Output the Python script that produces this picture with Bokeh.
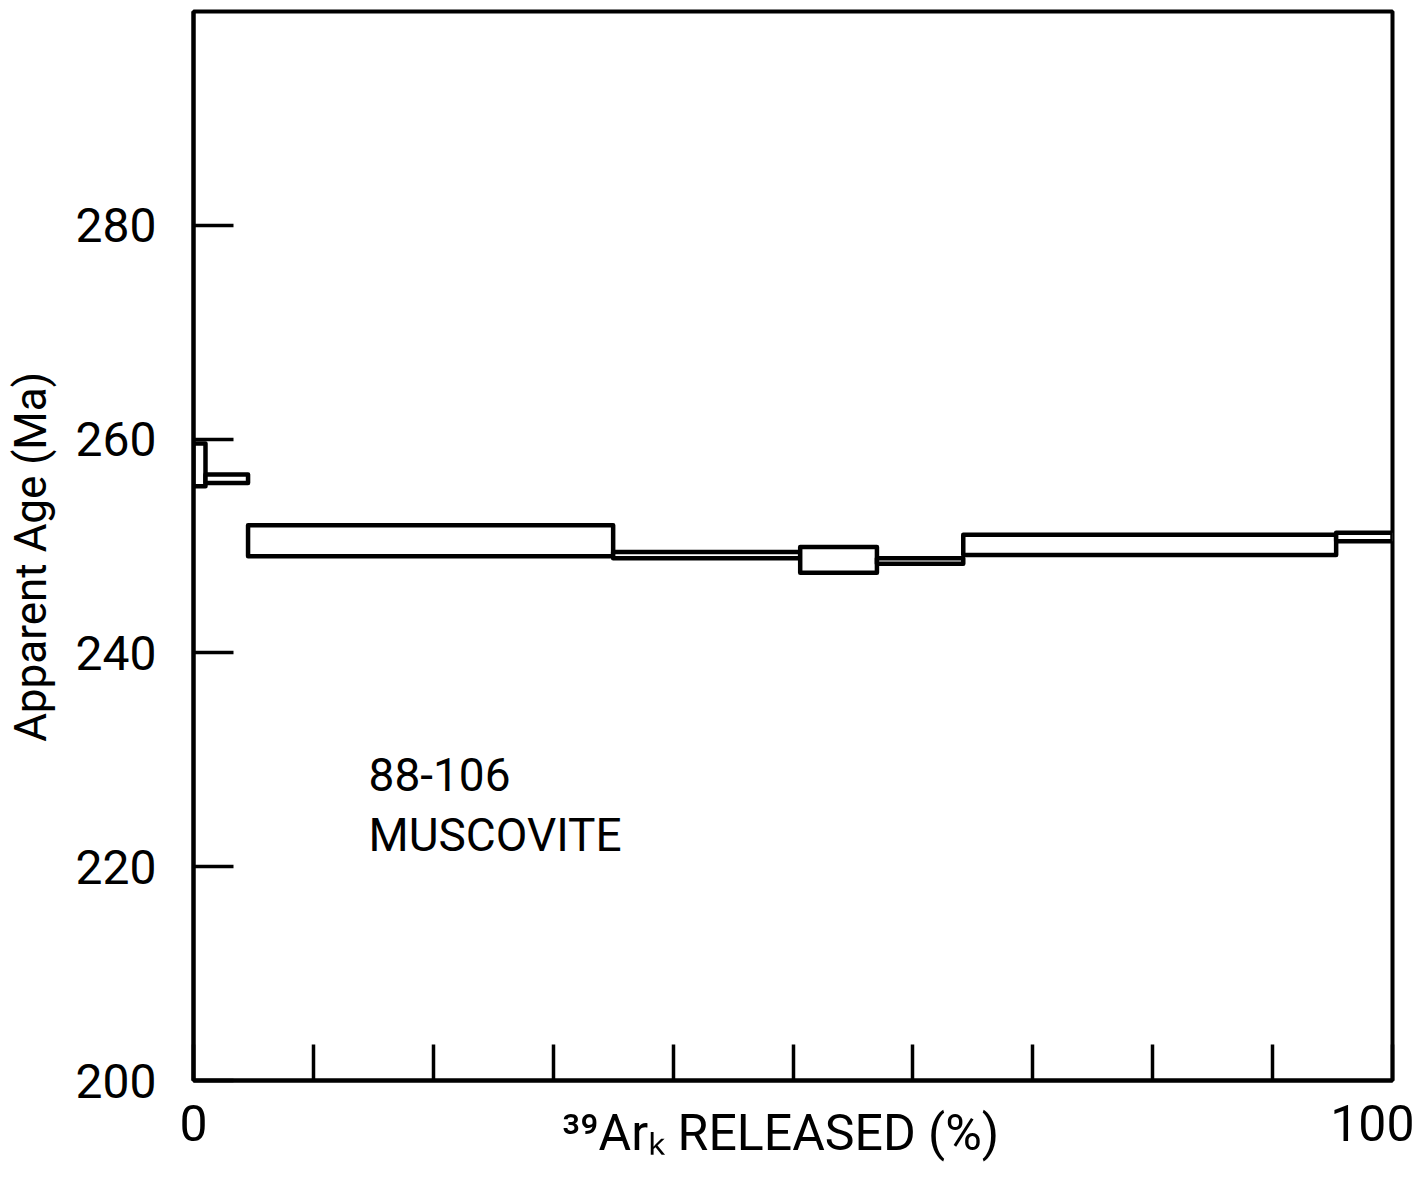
from bokeh.plotting import figure
from bokeh.models import FixedTicker, Range1d
from bokeh.core.properties import value
from bokeh.embed import file_html
from bokeh.resources import INLINE

# ---- data ----
cum_release = [0.0, 1.0, 4.55, 35.0, 50.6, 57.0, 64.2, 95.3, 100.0]   # cumulative 39Ar released (%)
apparent_age = [257.6, 256.3, 250.5, 249.15, 248.7, 248.6, 250.1, 250.85]  # Ma
age_error = [2.0, 0.4, 1.45, 0.3, 1.2, 0.25, 0.95, 0.4]  # Ma (half box height)

x_ticks = [0, 10, 20, 30, 40, 50, 60, 70, 80, 90, 100]
x_tick_labels = {0: "0", 100: "100"}
y_ticks = [200, 220, 240, 260, 280]

sample_lines = ["88-106", "MUSCOVITE"]
sample_x = [14.6, 14.6]
sample_y = [230.2, 225.5]

FONT = "Roboto"

left = cum_release[:-1]
right = cum_release[1:]
bottom = [a - e for a, e in zip(apparent_age, age_error)]
top = [a + e for a, e in zip(apparent_age, age_error)]

p = figure(width=1414, height=1179, output_backend="svg", toolbar_location=None,
           x_range=Range1d(0, 100), y_range=Range1d(200, 300),
           min_border_left=193, min_border_right=22, min_border_top=11, min_border_bottom=99)

p.background_fill_color = "white"
p.border_fill_color = "white"
p.outline_line_color = "black"
p.outline_line_width = 4
p.grid.visible = False

p.quad(left=left, right=right, bottom=bottom, top=top,
       fill_color="white", line_color="black", line_width=4.5, line_join="round")

p.text(x=sample_x, y=sample_y, text=sample_lines, text_font=value(FONT),
       text_font_size="46px", text_baseline="top", text_align="left", text_color="black")

# x axis
xa = p.xaxis[0]
xa.ticker = FixedTicker(ticks=x_ticks)
xa.major_label_overrides = {t: x_tick_labels.get(t, "") for t in x_ticks}
xa.minor_tick_line_color = None
xa.major_tick_in = 36
xa.major_tick_out = 0
xa.major_tick_line_width = 3.5
xa.axis_line_width = 4
xa.major_label_standoff = 24
xa.major_label_text_font = FONT
xa.major_label_text_font_size = "50px"
xa.major_label_text_color = "black"
xa.axis_label = "³⁹Arₖ  RELEASED  (%)"
xa.axis_label_text_font = FONT
xa.axis_label_text_font_size = "50px"
xa.axis_label_text_font_style = "normal"
xa.axis_label_text_color = "black"
xa.axis_label_standoff = -40

# y axis
ya = p.yaxis[0]
ya.ticker = FixedTicker(ticks=y_ticks)
ya.minor_tick_line_color = None
ya.major_tick_in = 40
ya.major_tick_out = 0
ya.major_tick_line_width = 3.5
ya.axis_line_width = 4
ya.major_label_standoff = 37
ya.major_label_text_font = FONT
ya.major_label_text_font_size = "48px"
ya.major_label_text_color = "black"
ya.axis_label = "Apparent  Age  (Ma)"
ya.axis_label_text_font = FONT
ya.axis_label_text_font_size = "44px"
ya.axis_label_text_font_style = "normal"
ya.axis_label_text_color = "black"
ya.axis_label_standoff = 16

open("out.html", "w").write(file_html(p, INLINE))
